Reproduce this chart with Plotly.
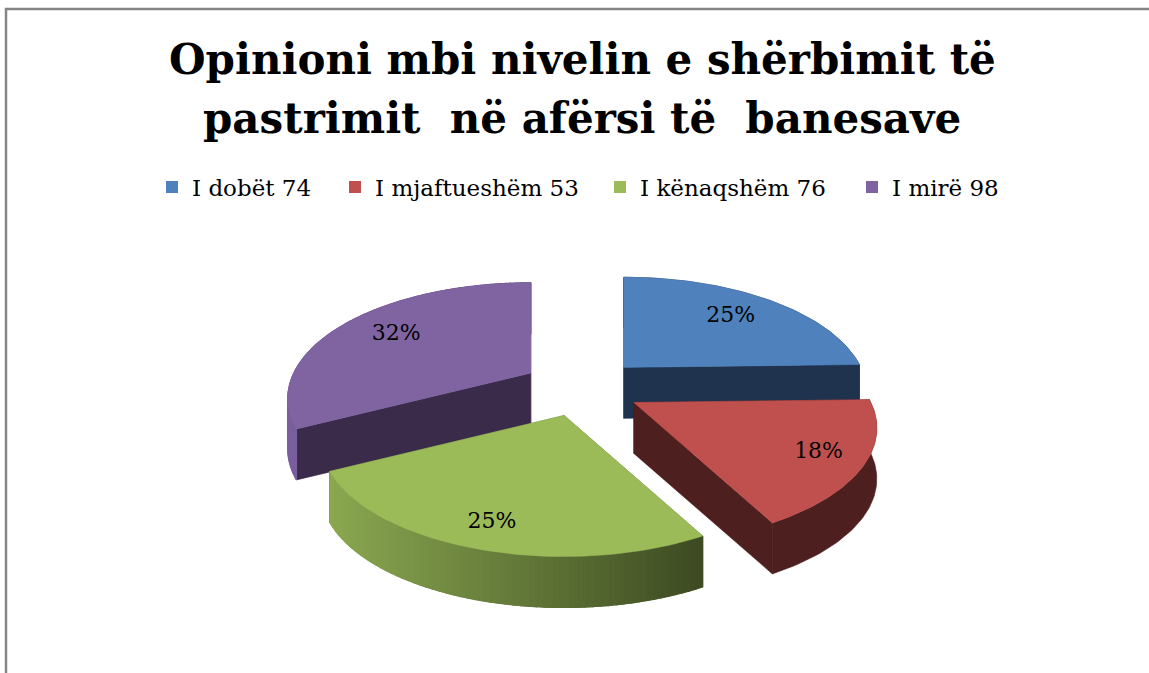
import math
import plotly.graph_objects as go

# ---- data ----
categories = ["I dobët", "I mjaftueshëm", "I kënaqshëm", "I mirë"]
counts = [74, 53, 76, 98]
pct_labels = ["25%", "18%", "25%", "32%"]
title_lines = ["Opinioni mbi nivelin e shërbimit të", "pastrimit\u00a0 në afërsi të\u00a0 banesave"]

# ---- styles ----
top_colors = ["#4f81bd", "#c0504d", "#9bbb59", "#8064a2"]
wall_colors = ["#1f334f", "#4e1f1f", "#6a8040", "#3b2b4a"]
side_colors = ["#1f334f", "#4e1f1f", "#6a8040", "#7a5f9e"]
rim_left = ["#1f334f", "#4e1f1f", "#8aa850", "#7a5f9e"]
rim_right = ["#1f334f", "#4e1f1f", "#3d4a22", "#6a528a"]
draw_order = [0, 3, 2, 1]
label_frac = [0.72, 0.82, 0.84, 0.72]
legend_x_px = [152, 335, 600, 852]
W, H = 1149, 673
CX, CY = 582, 388
R, A, K, DEPTH = 237, 110, 0.22, 51
EXPLODE, Q = 60, 0.48
FONT = "DejaVu Serif"


def hex_mix(a, b, t):
    ca = [int(a[i:i + 2], 16) for i in (1, 3, 5)]
    cb = [int(b[i:i + 2], 16) for i in (1, 3, 5)]
    return "#%02x%02x%02x" % tuple(round(x + (y - x) * t) for x, y in zip(ca, cb))


total = sum(counts)
edges = [0.0]
for c in counts:
    edges.append(edges[-1] + 360.0 * c / total)


def apex_of(i):
    mid = math.radians((edges[i] + edges[i + 1]) / 2)
    return CX + EXPLODE * math.sin(mid), CY - EXPLODE * Q * math.cos(mid)


def rim_point(i, deg, f=1.0):
    t = math.radians(deg)
    u, v = math.sin(t) * f, -math.cos(t) * f
    s = 1 / (1 - K * v)
    ax, ay = apex_of(i)
    return ax + R * u * s, ay + A * v * s


def poly(fig, pts, color, width=0.6):
    xs = [p[0] for p in pts] + [pts[0][0]]
    ys = [p[1] for p in pts] + [pts[0][1]]
    fig.add_trace(go.Scatter(x=xs, y=ys, mode="lines", fill="toself", fillcolor=color,
                             line=dict(color=color, width=width), showlegend=False,
                             hoverinfo="skip"))


fig = go.Figure()

for i in draw_order:
    a0, a1 = edges[i], edges[i + 1]
    ap = apex_of(i)
    down = lambda p: (p[0], p[1] + DEPTH)
    p0, p1 = rim_point(i, a0), rim_point(i, a1)
    # inner walls
    if i == 3:
        poly(fig, [p1, ap, down(ap), down(p1)], side_colors[i])
        poly(fig, [p0, ap, down(ap), down(p0)], wall_colors[i])
    else:
        poly(fig, [p0, ap, down(ap), down(p0)], side_colors[i])
        poly(fig, [p1, ap, down(ap), down(p1)], wall_colors[i])
    # outer rim: a single band, with a gradient laid over it where the colours differ
    fine = [a0 + (a1 - a0) * k / 60 for k in range(61)]
    arc = [rim_point(i, d) for d in fine]
    poly(fig, arc + [down(p) for p in reversed(arc)], hex_mix(rim_left[i], rim_right[i], 0.5))
    if rim_left[i] != rim_right[i]:
        n = int((a1 - a0) / 1.5)
        steps = [a0 + (a1 - a0) * k / n for k in range(n + 1)]
        xs = [rim_point(i, d)[0] for d in steps]
        lo, hi = min(xs), max(xs)
        for k in range(n):
            q0, q1 = rim_point(i, steps[k]), rim_point(i, steps[k + 1])
            t = ((q0[0] + q1[0]) / 2 - lo) / (hi - lo)
            poly(fig, [q0, q1, down(q1), down(q0)], hex_mix(rim_left[i], rim_right[i], t), 1.2)
    # top face
    poly(fig, [ap] + arc, top_colors[i])

# percentage labels
lx, ly = [], []
for i in range(4):
    p = rim_point(i, (edges[i] + edges[i + 1]) / 2, label_frac[i])
    lx.append(p[0])
    ly.append(p[1])
fig.add_trace(go.Scatter(x=lx, y=ly, mode="text", text=pct_labels, showlegend=False,
                         textfont=dict(family=FONT, size=22, color="#000000"), hoverinfo="skip"))

# legend entries: one small legend per entry so that each sits at its own place
legend_layout = {}
for j, (name, n, col, px) in enumerate(zip(categories, counts, top_colors, legend_x_px)):
    key = "legend" if j == 0 else f"legend{j + 1}"
    fig.add_trace(go.Scatter(x=[None], y=[None], mode="markers", name=f"{name} {n}", legend=key,
                             showlegend=True,
                             marker=dict(symbol="square", size=12, color=col)))
    legend_layout[key] = dict(x=px / W, y=1 - 187 / H, xanchor="left", yanchor="middle",
                              font=dict(family=FONT, size=23, color="#000000"), itemwidth=30,
                              bgcolor="rgba(0,0,0,0)")

# frame and title
fig.add_shape(type="rect", xref="x", yref="y", x0=6, y0=9, x1=W + 20, y1=H + 20,
              line=dict(color="#868686", width=2.5), layer="below")
for line, y in zip(title_lines, (59, 118)):
    fig.add_annotation(x=582, y=y, xref="x", yref="y", text=f"<b>{line}</b>", showarrow=False,
                       font=dict(family=FONT, size=42, color="#000000"))

fig.update_layout(
    width=W, height=H, margin=dict(l=0, r=0, t=0, b=0),
    paper_bgcolor="white", plot_bgcolor="white",
    xaxis=dict(range=[0, W], visible=False, fixedrange=True),
    yaxis=dict(range=[H, 0], visible=False, fixedrange=True),
    **legend_layout,
)
fig.write_html("out.html", config={"displayModeBar": False},
               post_script="document.body.style.margin='0';document.body.style.overflow='hidden';")
